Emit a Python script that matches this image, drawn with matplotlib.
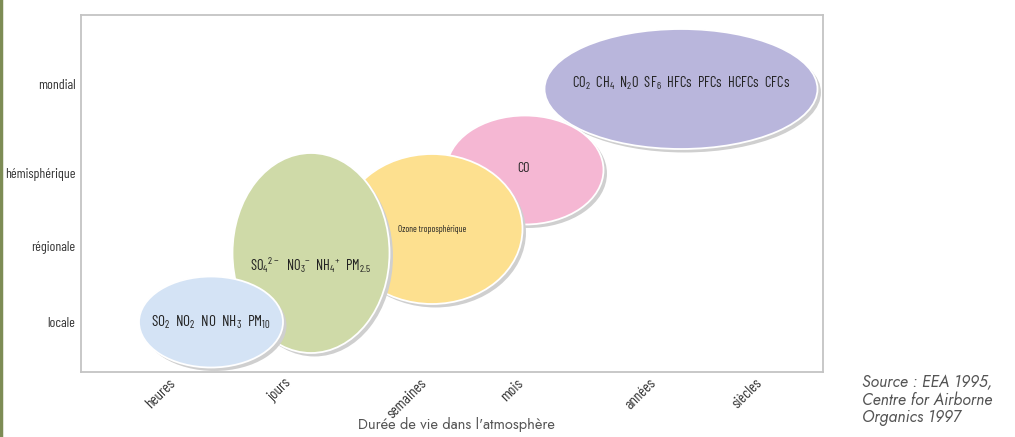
import matplotlib
matplotlib.use("Agg")
import matplotlib.pyplot as plt
import matplotlib.patheffects as pe
from matplotlib.patches import Ellipse
from matplotlib.lines import Line2D

# Axes categories
x_labels = ["heures", "jours", "semaines", "mois", "années", "siècles"]
x_pos = [0.80, 1.99, 3.26, 4.31, 5.60, 6.66]
y_labels = ["locale", "régionale", "hémisphérique", "mondial"]
y_pos = [0.50, 1.26, 1.99, 2.88]

# Bubbles: centre, size (same units on both axes), colour, label
cx = [6.00, 4.44, 3.51, 2.30, 1.30]
cy = [2.83, 2.02, 1.43, 1.19, 0.50]
widths = [2.73, 1.57, 1.81, 1.57, 1.44]
heights = [1.20, 1.09, 1.50, 2.00, 0.91]
colors = ["#b9b6dc", "#f5b7d3", "#fde08f", "#cfdaa8", "#d4e3f5"]
labels = [
    r"CO$_2$  CH$_4$  N$_2$O  SF$_6$  HFCs  PFCs  HCFCs  CFCs",
    "CO",
    "Ozone troposphérique",
    r"SO$_4$$^{2-}$  NO$_3$$^{-}$  NH$_4$$^{+}$  PM$_{2.5}$",
    r"SO$_2$  NO$_2$  NO  NH$_3$  PM$_{10}$",
]
label_x = [6.00, 4.43, 3.51, 2.30, 1.30]
label_y = [2.89, 2.04, 1.43, 1.07, 0.50]
label_size = [10.5, 10, 6.5, 10.5, 11]

narrow = ["Barlow Condensed", "DejaVu Sans"]
light = ["Jost", "Lato", "DejaVu Sans"]
plt.rcParams["font.family"] = narrow
plt.rcParams["font.stretch"] = "condensed"
plt.rcParams["mathtext.fontset"] = "custom"
plt.rcParams["mathtext.rm"] = "Barlow Condensed"
plt.rcParams["mathtext.default"] = "rm"

fig = plt.figure(figsize=(10.15, 4.37), dpi=100)
ax = fig.add_axes([81 / 1015, 65 / 437, 742 / 1015, 357 / 437])
ax.set_xlim(0, 7.42)
ax.set_ylim(0, 3.57)

shadow = [pe.SimplePatchShadow(offset=(2.5, -2.5), shadow_rgbFace="#cfcfcf", alpha=1.0), pe.Normal()]
for i in range(len(cx)):
    e = Ellipse((cx[i], cy[i]), widths[i], heights[i], facecolor=colors[i],
                edgecolor="white", linewidth=1.3, zorder=2 + i)
    e.set_path_effects(shadow)
    ax.add_patch(e)
    ax.text(label_x[i], label_y[i], labels[i], ha="center", va="center",
            fontsize=label_size[i], color="#222222", zorder=10)

ax.set_xticks(x_pos)
ax.set_xticklabels(x_labels, rotation=45, ha="center", fontsize=11, color="#333333")
ax.set_yticks(y_pos)
ax.set_yticklabels(y_labels, fontsize=10, color="#333333")
ax.tick_params(length=0)
ax.tick_params(axis="x", pad=3)
ax.tick_params(axis="y", pad=4)
for s in ax.spines.values():
    s.set_color("#c4c4c4")
    s.set_linewidth(1.3)

fig.text(456 / 1015, 1 - 425 / 437, "Durée de vie dans l'atmosphère", ha="center",
         va="center", fontsize=10.5, color="#555555", family=light, stretch="normal")
fig.text(862 / 1015, 1 - 400 / 437, "Source : EEA 1995,\nCentre for Airborne\nOrganics 1997",
         ha="left", va="center", fontsize=11.5, color="#555555", style="italic",
         family=light, stretch="normal", linespacing=1.0)

fig.add_artist(Line2D([0.001, 0.001], [0, 1], color="#7d8c55", linewidth=2.5))

fig.savefig("out.png", dpi=100)
